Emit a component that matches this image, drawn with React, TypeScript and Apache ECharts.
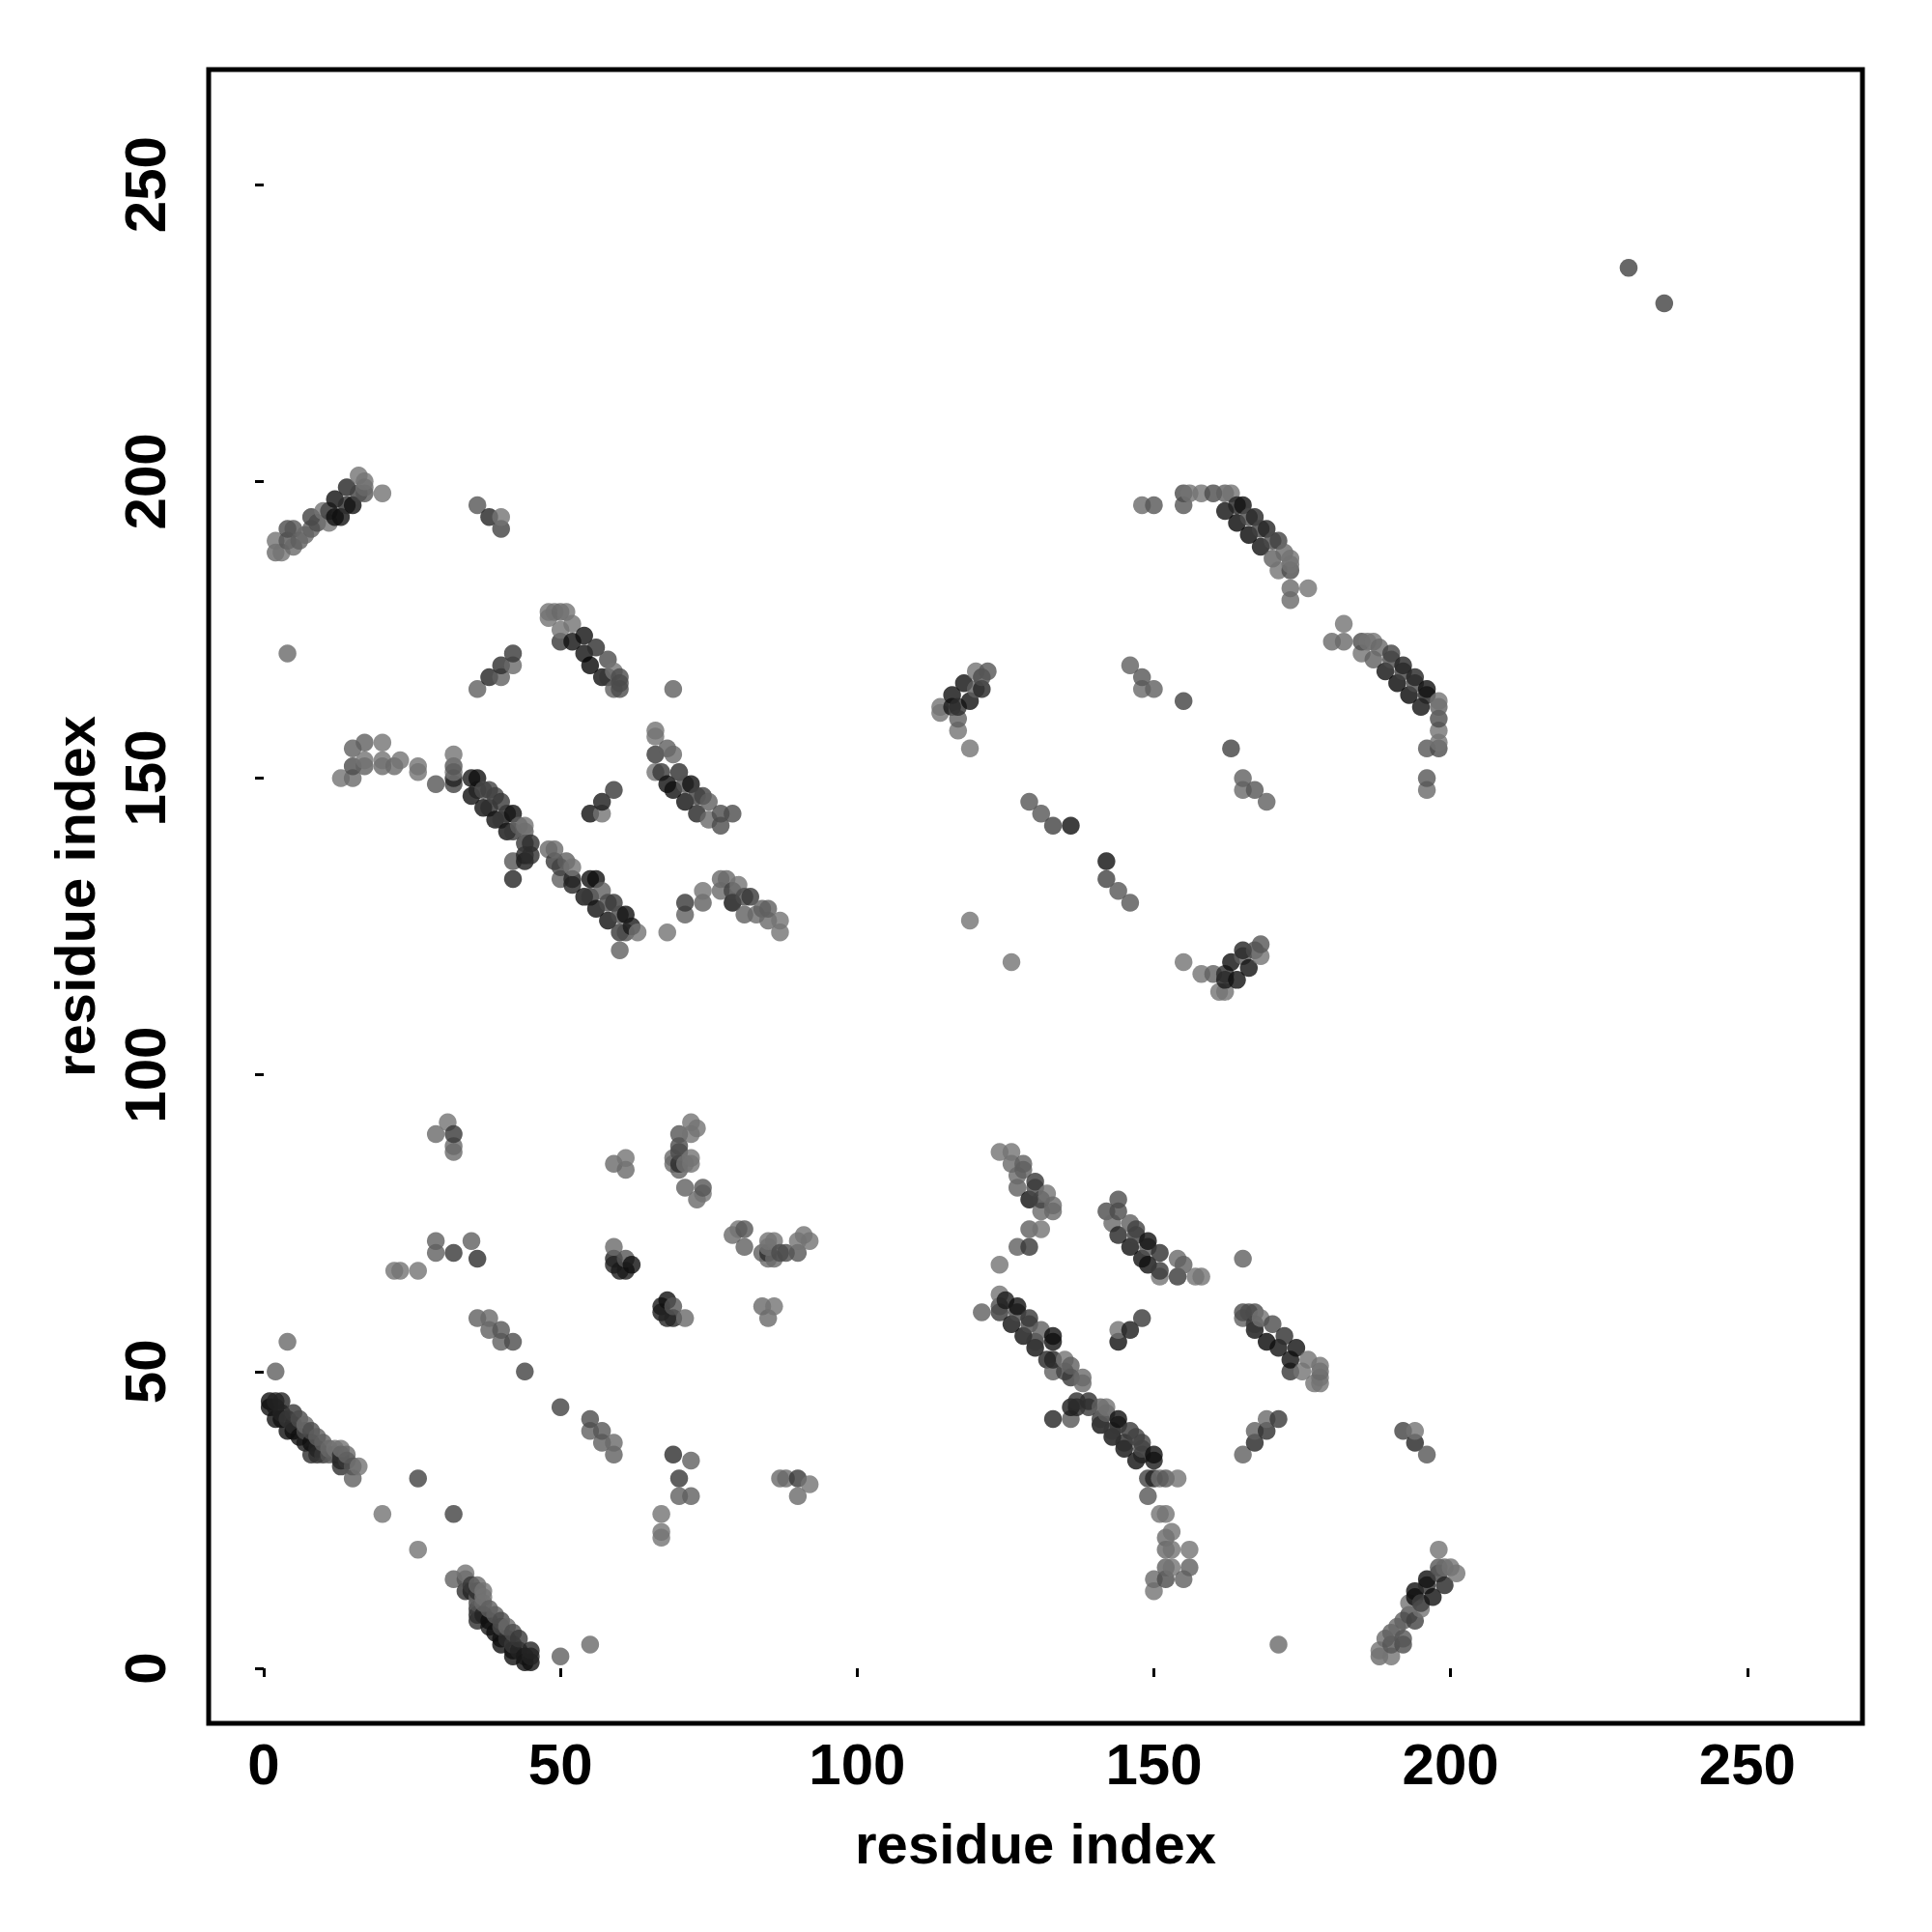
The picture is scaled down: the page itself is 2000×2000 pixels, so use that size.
import React, { useEffect, useRef } from "react";
import * as echarts from "echarts";

// Contacts [residue i, residue j, darkness 0..12]; the map is symmetric, each pair is listed once (i < j).
const tickValues = [0, 50, 100, 150, 200, 250];
const axisTitle = "residue index";

const isolated = [[2,50,3],[4,55,2],[4,171,2],[20,26,1],[26,32,6],[230,236,6],[69,165,3],[119,126,1]];

const nTermHelix = [[1,44,11],[1,45,11],[2,42,11],[2,44,10],[2,45,9],[3,42,11],[3,43,9],[3,45,9],[4,40,11],[4,42,7],[5,40,11],[5,41,8],[5,43,7],[6,39,11],[6,42,5],[7,38,10],[7,40,5],[7,41,2],[8,36,8],[8,38,11],[8,40,5],[9,36,8],[9,37,9],[9,39,3],[10,36,7],[10,38,3],[11,36,4],[11,37,2],[12,36,3],[12,37,1],[13,34,8],[13,35,9],[13,36,8],[13,37,1],[14,35,7],[14,36,2],[15,32,3],[15,34,4],[16,34,1]];

const middleContacts = [[22,67,1],[23,67,1],[26,67,1],[29,70,3],[29,72,3],[29,90,2],[31,92,1],[32,70,7],[32,87,2],[32,88,2],[32,90,7],[35,72,3],[36,69,8],[36,59,3],[38,59,2],[38,57,3],[40,57,4],[40,55,3],[42,55,5],[44,50,6]];

const loopContacts = [[59,68,9],[59,69,9],[59,71,2],[60,67,10],[61,67,10],[61,69,4],[62,68,11],[59,85,2],[61,84,2],[61,86,1],[69,85,2],[69,86,2],[70,84,3],[70,85,8],[70,87,5],[70,88,5],[70,90,4],[71,85,1],[72,85,1],[72,86,1],[72,90,1],[72,92,1],[73,91,1],[71,81,3],[74,80,1],[74,81,4],[73,79,2]];

const longHelix = [[13,150,1],[15,150,2],[15,152,5],[15,155,3],[17,152,3],[17,153,1],[17,156,3],[20,152,2],[20,153,1],[20,156,1],[22,152,2],[23,153,1],[26,151,1],[26,152,1],[29,149,4],[32,149,6],[32,150,9],[32,151,1],[32,152,4],[32,154,1],[35,147,11],[35,150,10],[36,148,9],[36,150,11],[37,145,11],[37,148,5],[38,145,8],[38,148,6],[39,143,11],[39,147,6],[40,143,7],[40,146,7],[41,141,11],[41,144,7],[42,141,7],[42,144,11],[43,142,3],[42,133,9],[42,136,4],[44,136,10],[44,137,9],[44,139,7],[44,141,3],[44,142,1],[45,137,8],[45,139,8],[48,138,2],[49,136,7],[49,138,2],[50,133,3],[50,135,6],[51,136,3],[52,132,9],[52,133,9],[52,135,1],[54,130,11],[55,130,7],[55,133,11],[56,128,11],[56,133,11],[57,131,3],[58,126,11],[58,129,5],[59,129,7],[60,121,3],[60,124,7],[60,127,5],[61,124,5],[61,127,11],[62,125,10],[63,124,1]];

const tailContacts = [[68,124,1],[71,127,3],[71,129,7],[74,129,3],[74,131,1],[77,131,2],[77,133,2],[78,133,2],[79,129,11],[79,131,6],[80,132,1],[81,127,3],[81,130,5],[82,130,7],[83,127,2],[84,128,3],[85,126,2],[85,128,3],[87,124,1],[87,126,1]];

const upperHelix = [[48,177,1],[48,178,1],[49,178,1],[50,173,7],[50,175,1],[50,178,2],[51,178,1],[52,173,11],[52,176,1],[54,171,11],[54,174,11],[55,169,12],[56,172,8],[57,167,11],[58,167,7],[58,170,5],[59,165,3],[59,168,1],[60,165,5],[60,166,5],[60,167,5]];

const smallPatches = [[36,165,3],[38,167,9],[40,167,3],[40,169,8],[42,169,2],[42,171,7],[36,196,4],[38,194,9],[40,192,6],[40,194,1],[55,144,11],[57,144,1],[57,146,10],[59,148,7]];

const thirdHelix = [[66,151,1],[66,154,7],[66,157,1],[66,158,1],[67,151,7],[68,149,11],[68,155,3],[69,148,11],[69,154,2],[70,151,8],[71,146,11],[71,149,4],[72,149,11],[73,144,9],[73,147,6],[74,147,6],[75,143,2],[75,146,3],[77,142,5],[77,144,5],[79,144,5]];

const terminalPairs = [[2,188,2],[2,190,1],[3,188,1],[4,190,4],[4,192,5],[5,189,2],[5,192,4],[6,190,3],[7,191,2],[8,192,3],[8,194,6],[9,193,5],[10,195,1],[11,193,1],[11,195,6],[12,194,11],[12,197,11],[13,194,11],[14,196,8],[14,199,9],[15,196,11],[16,198,6],[16,201,1],[17,198,4],[17,199,2],[17,200,1],[20,198,1]];

const domainTwoPatches = [[114,161,1],[114,162,1],[116,162,10],[116,164,11],[117,158,1],[117,160,3],[117,162,8],[118,166,11],[119,155,1],[119,163,11],[120,165,3],[120,168,1],[121,165,9],[121,167,5],[122,168,4],[129,146,4],[131,144,4],[133,142,6],[136,142,11],[146,169,3],[148,165,2],[148,167,4],[150,165,3],[155,163,6]];

const domainTwoHelix = [[148,196,2],[150,196,4],[155,196,4],[155,198,5],[156,198,1],[158,198,1],[160,198,5],[162,198,3],[163,198,1],[162,195,11],[164,193,12],[164,196,9],[165,196,11],[166,191,12],[166,194,5],[167,194,9],[168,189,11],[168,192,6],[169,192,9],[170,187,3],[170,190,5],[171,185,1],[171,190,6],[172,188,2],[173,180,2],[173,182,2],[173,185,5],[173,186,1],[173,187,1],[176,182,1]];

const contacts = [...isolated, ...nTermHelix, ...middleContacts, ...loopContacts, ...longHelix, ...tailContacts, ...upperHelix, ...smallPatches, ...thirdHelix, ...terminalPairs, ...domainTwoPatches, ...domainTwoHelix];

const grey = (v: number) => {
  const g = 125 - 10 * v;
  return `rgb(${g},${g},${g})`;
};

const points = contacts
  .flatMap(([i, j, v]) => [[i, j, v], [j, i, v]])
  .sort((a, b) => a[0] - b[0] || a[1] - b[1])
  .map(([x, y, v]) => ({ value: [x, y], itemStyle: { color: grey(v) } }));

const FONT = "Liberation Sans";

const makeAxis = (nameGap: number, labelExtra: object) => ({
  type: "value",
  min: -9.28,
  max: 269.4,
  name: axisTitle,
  nameLocation: "middle",
  nameGap,
  nameTextStyle: { fontFamily: FONT, fontWeight: "bold", fontSize: 58, color: "#000" },
  splitLine: { show: false },
  axisLine: { show: false },
  axisTick: { show: true, length: 9, customValues: tickValues, lineStyle: { color: "#000", width: 3 } },
  axisLabel: { show: true, customValues: tickValues, fontFamily: FONT, fontWeight: "bold", fontSize: 60, color: "#000", ...labelExtra },
});

export default function App() {
  const ref = useRef<HTMLDivElement>(null);
  useEffect(() => {
    const chart = echarts.init(ref.current!, undefined, { renderer: "svg" });
    chart.setOption({
      animation: false,
      backgroundColor: "#fff",
      grid: { left: 216, top: 72, width: 1712, height: 1712, show: true, borderWidth: 5, borderColor: "#000", backgroundColor: "transparent" },
      xAxis: makeAxis(95, { margin: 12 }),
      yAxis: makeAxis(110, { rotate: 90, margin: 36 }),
      series: [{ type: "scatter", symbol: "circle", symbolSize: 18.5, data: points, clip: true, silent: true }],
    });
    return () => chart.dispose();
  }, []);
  return <div ref={ref} style={{ position: "absolute", left: 0, top: 0, width: 2000, height: 2000 }} />;
}
